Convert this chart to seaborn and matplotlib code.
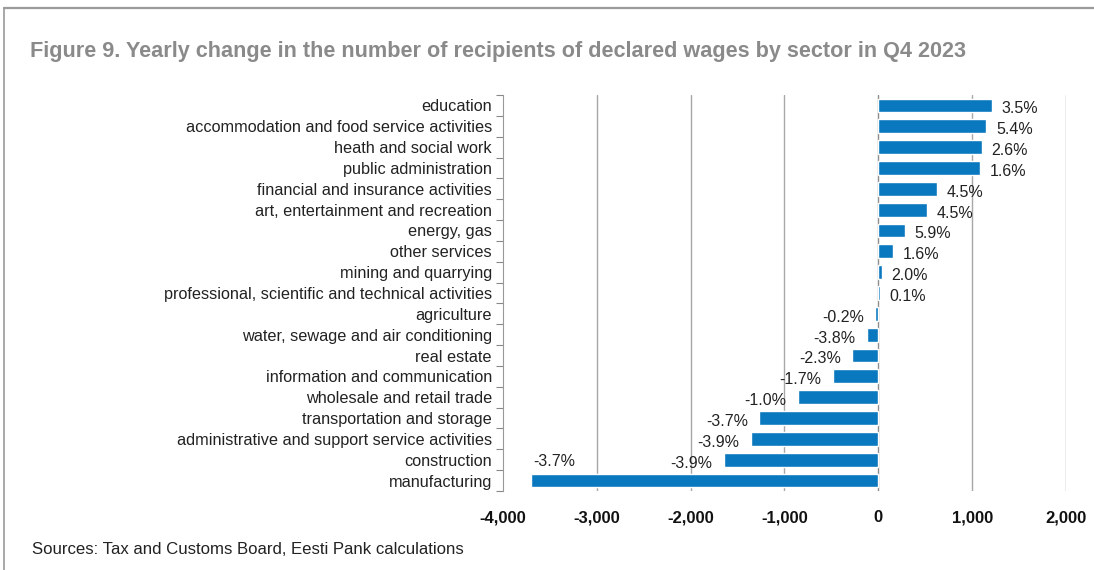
import matplotlib
matplotlib.use("Agg")
import matplotlib.pyplot as plt
from matplotlib.lines import Line2D
from matplotlib.ticker import FixedLocator, FuncFormatter
import seaborn as sns
import pandas as pd

sectors = [
    "education",
    "accommodation and food service activities",
    "heath and social work",
    "public administration",
    "financial and insurance activities",
    "art, entertainment and recreation",
    "energy, gas",
    "other services",
    "mining and quarrying",
    "professional, scientific and technical activities",
    "agriculture",
    "water, sewage and air conditioning",
    "real estate",
    "information and communication",
    "wholesale and retail trade",
    "transportation and storage",
    "administrative and support service activities",
    "construction",
    "manufacturing",
]
changes = [1207, 1150, 1101, 1084, 620, 514, 285, 159, 37, 15,
           -33, -126, -281, -485, -860, -1272, -1362, -1647, -3698]
pct_labels = ["3.5%", "5.4%", "2.6%", "1.6%", "4.5%", "4.5%", "5.9%", "1.6%", "2.0%", "0.1%",
              "-0.2%", "-3.8%", "-2.3%", "-1.7%", "-1.0%", "-3.7%", "-3.9%", "-3.9%", "-3.7%"]
x_ticks = [-4000, -3000, -2000, -1000, 0, 1000, 2000]

title = "Figure 9. Yearly change in the number of recipients of declared wages by sector in Q4 2023"
source = "Sources: Tax and Customs Board, Eesti Pank calculations"

sns.set_theme(style="white")
plt.rcParams["font.family"] = ["Liberation Sans", "DejaVu Sans"]

df = pd.DataFrame({"sector": sectors, "change": changes})

fig = plt.figure(figsize=(10.94, 5.70), dpi=100)
ax = fig.add_axes([503 / 1094, 1 - 491 / 570, (1066 - 503) / 1094, (491 - 95) / 570])

sns.barplot(data=df, x="change", y="sector", orient="h", color="#0a78be",
            saturation=1, width=0.66, ax=ax, zorder=3)

ax.set_xlim(-4000, 2000)
ax.set_ylim(len(sectors) - 0.5, -0.5)
ax.set_xlabel("")
ax.set_ylabel("")

# vertical gridlines; the zero line slightly darker
for v in x_ticks[1:]:
    ax.axvline(v, color="#8c8c8c" if v == 0 else "#a8a8a8", lw=1.0, zorder=1)

ax.xaxis.set_major_locator(FixedLocator(x_ticks))
ax.xaxis.set_major_formatter(FuncFormatter(lambda v, p: f"{int(v):,}"))
ax.tick_params(axis="x", length=0, pad=14, labelsize=12, labelcolor="#111111")
for lbl in ax.get_xticklabels():
    lbl.set_fontweight("bold")

# category boundary ticks on the left axis
ax.set_yticks([i + 0.5 for i in range(-1, len(sectors))], minor=True)
ax.tick_params(axis="y", which="major", length=0, pad=8, labelsize=11.7, labelcolor="#222222")
ax.tick_params(axis="y", which="minor", length=5, width=0.8, color="#888888", left=True)

for s in ["top", "right", "bottom"]:
    ax.spines[s].set_visible(False)
ax.spines["left"].set_color("#999999")
ax.spines["left"].set_linewidth(0.8)

# value labels
for i, (v, lab) in enumerate(zip(changes, pct_labels)):
    if i == len(sectors) - 1:
        ax.annotate(lab, xy=(-3450, i - 1), xytext=(0, -1), textcoords="offset points",
                    ha="center", va="center", fontsize=11.5, color="#222222")
    elif v >= 0:
        ax.annotate(lab, xy=(v, i), xytext=(7, -2.5), textcoords="offset points",
                    ha="left", va="center", fontsize=11.5, color="#222222", zorder=4)
    else:
        ax.annotate(lab, xy=(v, i), xytext=(-8, -2.5), textcoords="offset points",
                    ha="right", va="center", fontsize=11.5, color="#222222", zorder=4)

fig.text(30 / 1094, 1 - 52 / 570, title, fontsize=15.6, fontweight="bold",
         color="#8a8a8a", ha="left", va="center")
fig.text(32 / 1094, 1 - 549 / 570, source, fontsize=12.1, color="#222222",
         ha="left", va="center")

# frame lines along the top and left edges
fig.add_artist(Line2D([4 / 1094, 1], [1 - 8 / 570, 1 - 8 / 570], transform=fig.transFigure,
                      color="#9a9a9a", lw=1.6))
fig.add_artist(Line2D([4 / 1094, 4 / 1094], [0, 1 - 8 / 570], transform=fig.transFigure,
                      color="#9a9a9a", lw=1.2))

fig.savefig("out.png", dpi=100)
